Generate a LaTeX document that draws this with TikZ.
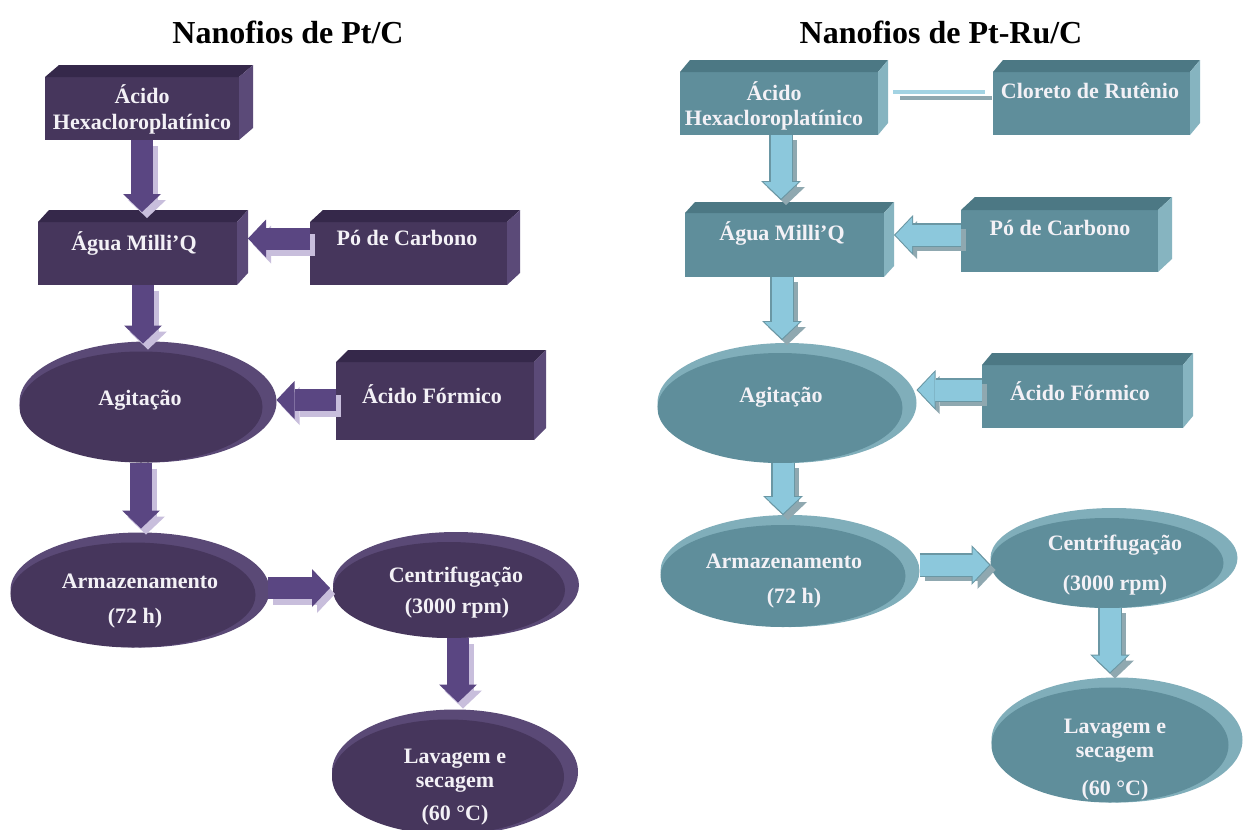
\documentclass[tikz,border=0pt]{standalone}
\usepackage{fontspec}
\setmainfont{Liberation Serif}
\usetikzlibrary{arrows.meta,shapes.geometric,calc}
\definecolor{pbase}{HTML}{46365C}
\definecolor{ptop}{HTML}{35284A}
\definecolor{pside}{HTML}{5B4A78}
\definecolor{prim}{HTML}{5A4976}
\definecolor{parr}{HTML}{5A4682}
\definecolor{parrsh}{HTML}{C8BEDC}
\definecolor{tbase}{HTML}{5F8E9B}
\definecolor{ttop}{HTML}{4C7884}
\definecolor{tside}{HTML}{86B4C0}
\definecolor{trim}{HTML}{80AEBA}
\definecolor{tarr}{HTML}{8CC8DC}
\definecolor{tarrln}{HTML}{6A97A4}
\definecolor{tarrsh}{HTML}{8FA8B0}
\definecolor{txt}{HTML}{F3F1F6}
\tikzset{
 front/.style={rectangle, inner sep=0pt, outer sep=0pt},
 oval/.style={ellipse, inner sep=0pt, outer sep=0pt},
 lbl/.style={text=txt, font=\bfseries\fontsize{22}{26}\selectfont, inner sep=0pt, anchor=base},
 ttl/.style={text=black, font=\bfseries\fontsize{32}{38}\selectfont, inner sep=0pt, anchor=base},
 parw/.style={draw=parr, line width=22pt, -{Triangle[width=38pt,length=18pt,line width=0pt]}},
 parwsh/.style={parw, draw=parrsh, transform canvas={shift={(5pt,-6pt)}}},
 tarwsh/.style={draw=tarrsh, line width=22pt, -{Triangle[width=38pt,length=18pt,line width=0pt]}, transform canvas={shift={(5pt,-5pt)}}},
 tarwout/.style={draw=tarrln, line width=24pt, -{Triangle[width=40pt,length=19pt,line width=0pt]}},
 tarwin/.style={draw=tarr, line width=21pt, -{Triangle[width=35pt,length=16.5pt,line width=0pt]}, shorten >=1.5pt},
 dlineA/.style={draw=tarr!80!white, line width=4pt},
 dlineB/.style={draw=tarrsh, line width=4pt},
}
\newcommand\mkcube[7]{%
 \node[front, fill=#5base, minimum width=#3pt, minimum height=#4pt] (#1) at #2 {};
 \fill[#5top] (#1.north west) -- ($(#1.north west)+(#6,-#7)$) -- ($(#1.north east)+(#6,-#7)$) -- (#1.north east) -- cycle;
 \fill[#5side] (#1.north east) -- ($(#1.north east)+(#6,-#7)$) -- ($(#1.south east)+(#6,-#7)$) -- (#1.south east) -- cycle;
}
\newcommand\mkoval[5]{%
 \node[oval, fill=#5rim, minimum width=#3pt, minimum height=#4pt] (#1) at #2 {};
 \fill[#5base] ($(#1.center)+(-7,5)$) ellipse [x radius={#3pt/2-7pt}, y radius={#4pt/2-5pt}];
}
\newcommand\parrow[2]{\draw[parwsh] #1 -- #2; \draw[parw] #1 -- #2;}
\newcommand\tarrow[2]{\draw[tarwsh] #1 -- #2; \draw[tarwout] #1 -- #2; \draw[tarwin] #1 -- #2;}
\begin{document}
\begin{tikzpicture}[x=1pt,y=-1pt]
\useasboundingbox (0,0) rectangle (1243,830);
\fill[white] (0,0) rectangle (1243,830);
% titles
\node[ttl] (T1) at (288,43) {Nanofios de Pt/C};
\node[ttl] (T2) at (941,43) {Nanofios de Pt-Ru/C};
% ---------------- left
\mkcube{L1}{(142,108.5)}{194}{63}{p}{14}{12}
\mkcube{L2}{(137.5,253.5)}{199}{63}{p}{11}{12}
\mkcube{L3}{(408.5,253.5)}{197}{63}{p}{13}{12}
\mkcube{L5}{(435,401)}{198}{78}{p}{12}{12}
\mkoval{L4}{(148,402)}{257}{121}{p}
\mkoval{L6}{(140,590)}{259}{115}{p}
\mkoval{L7}{(456,585)}{246}{106}{p}
\mkoval{L8}{(455,772)}{246}{125}{p}
\node[lbl] (L1a) at (142,103) {Ácido};
\node[lbl] (L1b) at (142,129) {Hexacloroplatínico};
\node[lbl] (L2a) at (134,250) {Água Milli’Q};
\node[lbl] (L3a) at (407,245) {Pó de Carbono};
\node[lbl] (L4a) at (140,405) {Agitação};
\node[lbl] (L5a) at (432,403) {Ácido Fórmico};
\node[lbl] (L6a) at (140,588) {Armazenamento};
\node[lbl] (L6b) at (135,623) {(72 h)};
\node[lbl] (L7a) at (456,582) {Centrifugação};
\node[lbl] (L7b) at (457,613) {(3000 rpm)};
\node[lbl] (L8a) at (455,763) {Lavagem e};
\node[lbl] (L8b) at (455,787) {secagem};
\node[lbl] (L8c) at (455,820) {(60 °C)};
\parrow{(L1.south)}{($(L1.south |- L2.north)+(0,-10)$)}
\parrow{($(L3.west)+(0,-15)$)}{($(L3.west -| L2.east)+(11,-15)$)}
\parrow{($(L2.south)+(5.5,0)$)}{($(L4.north)+(-5,2)$)}
\parrow{($(L5.west)+(0,-1)$)}{($(L4.east)+(0,-2)$)}
\parrow{($(L4.south)+(-7,0)$)}{($(L6.north)+(1,-4)$)}
\parrow{($(L6.east)+(-2,-2)$)}{($(L7.west)+(-3,3)$)}
\parrow{($(L7.south)+(2,0)$)}{($(L8.north)+(3,-7)$)}
% ---------------- right
\mkcube{R1}{(779,103.5)}{198}{63}{t}{10}{12}
\mkcube{R2}{(1091.5,103.5)}{197}{63}{t}{10}{12}
\mkcube{R3}{(784.5,245)}{199}{64}{t}{10}{11}
\mkcube{R4}{(1059.5,241)}{197}{62}{t}{14}{13}
\mkcube{R6}{(1082.5,396.5)}{201}{63}{t}{10}{12}
\mkoval{R5}{(787,403)}{259}{120}{t}
\mkoval{R7}{(790,571)}{259}{112}{t}
\mkoval{R8}{(1114,558)}{247}{100}{t}
\mkoval{R9}{(1117,740)}{251}{125}{t}
\node[lbl] (R1a) at (774,100) {Ácido};
\node[lbl] (R1b) at (774,125) {Hexacloroplatínico};
\node[lbl] (R2a) at (1090,98) {Cloreto de Rutênio};
\node[lbl] (R3a) at (782,240) {Água Milli’Q};
\node[lbl] (R4a) at (1060,235) {Pó de Carbono};
\node[lbl] (R5a) at (781,402) {Agitação};
\node[lbl] (R6a) at (1080,400) {Ácido Fórmico};
\node[lbl] (R7a) at (784,568) {Armazenamento};
\node[lbl] (R7b) at (794,603) {(72 h)};
\node[lbl] (R8a) at (1115,550) {Centrifugação};
\node[lbl] (R8b) at (1115,590) {(3000 rpm)};
\node[lbl] (R9a) at (1115,733) {Lavagem e};
\node[lbl] (R9b) at (1115,757) {secagem};
\node[lbl] (R9c) at (1115,795) {(60 °C)};
\draw[dlineB] ($(R1.east)+(22,-5.5)$) -- ($(R2.west)+(-1,-5.5)$);
\draw[dlineA] ($(R1.east)+(15,-11.5)$) -- ($(R2.west)+(-8,-11.5)$);
\tarrow{($(R1.south)+(2,0)$)}{($(R3.north)+(-3.5,-13)$)}
\tarrow{($(R4.west)+(0,-6)$)}{($(R3.east)+(10,-10)$)}
\tarrow{($(R3.south)+(-2.5,0)$)}{($(R5.north)+(-5,-3)$)}
\tarrow{($(R6.west)+(0,-6.5)$)}{($(R5.east)+(0,-13)$)}
\tarrow{($(R5.south)+(-4,0)$)}{($(R7.north)+(-7,0)$)}
\tarrow{($(R7.east)+(0,-6)$)}{($(R8.west)+(0,7)$)}
\tarrow{($(R8.south)+(-4,0)$)}{($(R9.north)+(-7,-4)$)}
\end{tikzpicture}
\end{document}
